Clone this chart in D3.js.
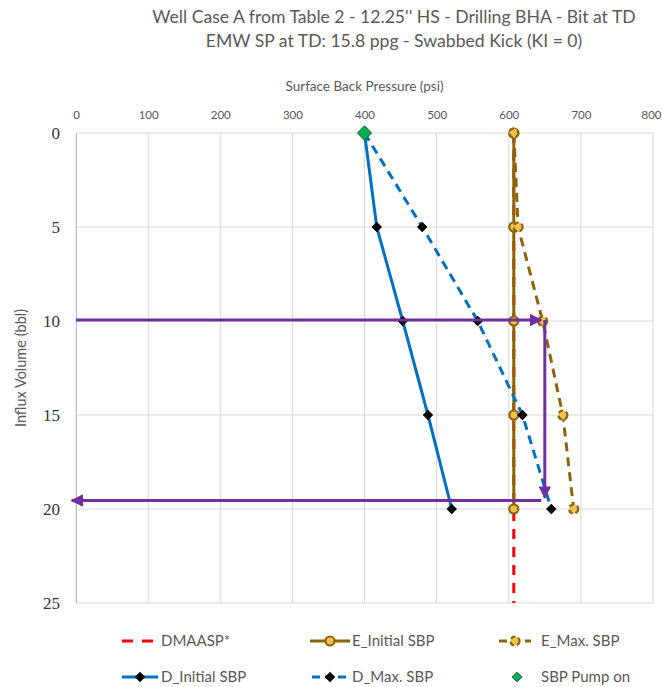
<!DOCTYPE html>
<html><head><meta charset="utf-8">
<script src="https://cdn.jsdelivr.net/npm/d3@7"></script>
<style>body{margin:0;background:#fff}svg{display:block}</style>
</head><body><svg id="c" width="662" height="687"></svg>
<script>
const titleLines = ["Well Case A from Table 2 - 12.25'' HS - Drilling BHA - Bit at TD", "EMW SP at TD: 15.8 ppg - Swabbed Kick (KI = 0)"];
const xTicks = [0,100,200,300,400,500,600,700,800];
const yTicks = [0,5,10,15,20,25];
const volumes = [0,5,10,15,20];
const eInitial = [607,607,607,607,607];
const eMax = [607,613,647,675,690];
const dInitial = [400,417,453,488,521];
const dMax = [400,480,557,619,659];
const dmaaspVol = [0,25];
const dmaasp = [607,607];
const pumpOnSBP = [400];
const pumpOnVol = [0];
// annotation arrows (SBP, volume) start -> end
const arrowStartSBP = [0,650,645];
const arrowStartVol = [9.95,9.95,19.55];
const arrowEndSBP = [645,650,-6];
const arrowEndVol = [9.95,19.4,19.55];

const svg = d3.select("#c");
const m = {l:76, r:653, t:133, b:603};
const x = d3.scaleLinear().domain([0,800]).range([m.l,m.r]);
const y = d3.scaleLinear().domain([0,25]).range([m.t,m.b]);
const grey = "#595959", brown = "#8B6508", blue = "#0070C0", purple = "#7030A0";
const sans = "Lato, 'Open Sans', sans-serif";

svg.append("defs").append("marker").attr("id","ah").attr("viewBox","0 0 10 10")
  .attr("refX",9).attr("refY",5).attr("markerWidth",4.2).attr("markerHeight",4.2)
  .attr("orient","auto").attr("markerUnits","strokeWidth")
  .append("path").attr("d","M0,0L10,5L0,10z").attr("fill",purple);

svg.selectAll(".tt").data(titleLines).join("text").attr("x",394).attr("y",(d,i)=>23+i*24)
  .attr("text-anchor","middle").attr("font-family",sans).attr("font-size",17.6)
  .attr("fill",grey).text(d=>d);

// grid
svg.append("g").selectAll("line").data(xTicks).join("line")
  .attr("x1",d=>x(d)).attr("x2",d=>x(d)).attr("y1",m.t).attr("y2",m.b).attr("stroke","#d9d9d9");
svg.append("g").selectAll("line").data(yTicks).join("line")
  .attr("x1",m.l).attr("x2",m.r).attr("y1",d=>y(d)).attr("y2",d=>y(d)).attr("stroke","#d9d9d9");

// axes
const xa = svg.append("g").attr("transform",`translate(0,${m.t})`)
  .call(d3.axisTop(x).tickValues(xTicks).tickSize(0).tickPadding(14));
xa.select(".domain").remove();
xa.selectAll("text").attr("font-family",sans).attr("font-size",11.5).attr("fill",grey)
  .attr("dx",d=>d===800?-2:0);
const ya = svg.append("g").attr("transform",`translate(${m.l},0)`)
  .call(d3.axisLeft(y).tickValues(yTicks).tickSize(0).tickPadding(16));
ya.select(".domain").attr("stroke","#bfbfbf");
ya.selectAll("text").attr("font-family","'Liberation Serif', serif").attr("font-size",17).attr("fill","#333");

svg.append("text").attr("x",(m.l+m.r)/2).attr("y",91).attr("text-anchor","middle")
  .attr("font-family",sans).attr("font-size",13.5).attr("fill",grey).text("Surface Back Pressure (psi)");
svg.append("text").attr("transform",`translate(26,${(m.t+m.b)/2}) rotate(-90)`).attr("text-anchor","middle")
  .attr("font-family",sans).attr("font-size",14.5).attr("fill",grey).text("Influx Volume (bbl)");

const line = d3.line().x(d=>x(d[0])).y(d=>y(d[1]));
const pts = arr => arr.map((v,i)=>[v,volumes[i]]);

// series
svg.append("path").datum(dmaasp.map((v,i)=>[v,dmaaspVol[i]])).attr("d",line)
  .attr("fill","none").attr("stroke","#FF0000").attr("stroke-width",3).attr("stroke-dasharray","10,8");
svg.append("path").datum(pts(eInitial)).attr("d",line).attr("fill","none").attr("stroke",brown).attr("stroke-width",3);
svg.append("path").datum(pts(eMax)).attr("d",line).attr("fill","none").attr("stroke",brown).attr("stroke-width",3).attr("stroke-dasharray","9,6");
svg.append("path").datum(pts(dInitial)).attr("d",line).attr("fill","none").attr("stroke",blue).attr("stroke-width",3);
svg.append("path").datum(pts(dMax)).attr("d",line).attr("fill","none").attr("stroke",blue).attr("stroke-width",3).attr("stroke-dasharray","9,6");

function circles(arr, dashed){
  svg.append("g").selectAll("circle").data(pts(arr)).join("circle")
    .attr("cx",d=>x(d[0])).attr("cy",d=>y(d[1])).attr("r",4.5)
    .attr("fill","#F2C14E").attr("stroke",brown).attr("stroke-width",2.2)
    .attr("stroke-dasharray",dashed?"5,3":null);
}
circles(eInitial,false); circles(eMax,true);
const diamond = d3.symbol().type(d3.symbolDiamond2).size(70);
function diamonds(arr){
  svg.append("g").selectAll("path").data(pts(arr)).join("path")
    .attr("transform",d=>`translate(${x(d[0])},${y(d[1])})`).attr("d",diamond).attr("fill","#000");
}
diamonds(dInitial); diamonds(dMax);
svg.append("g").selectAll("path").data(pumpOnSBP.map((v,i)=>[v,pumpOnVol[i]])).join("path")
  .attr("transform",d=>`translate(${x(d[0])},${y(d[1])})`).attr("d",d3.symbol().type(d3.symbolDiamond2).size(130))
  .attr("fill","#00B050").attr("stroke","#1e5e2e").attr("stroke-width",1);

// arrows
svg.append("g").selectAll("line").data(arrowStartSBP.map((v,i)=>i)).join("line")
  .attr("x1",i=>x(arrowStartSBP[i])).attr("y1",i=>y(arrowStartVol[i]))
  .attr("x2",i=>x(arrowEndSBP[i])).attr("y2",i=>y(arrowEndVol[i]))
  .attr("stroke",purple).attr("stroke-width",3).attr("marker-end","url(#ah)");

// legend
const lg = svg.append("g").attr("font-family",sans).attr("font-size",15).attr("fill",grey);
const legendItems = [
  {label:"DMAASP*", col:0,row:0},{label:"E_Initial SBP",col:1,row:0},{label:"E_Max. SBP",col:2,row:0},
  {label:"D_Initial SBP",col:0,row:1},{label:"D_Max. SBP",col:1,row:1},{label:"SBP Pump on",col:2,row:1}];
const colX = [122,310,497], textX = [161,352,541], rowY = [641,677];
legendItems.forEach((it,k)=>{
  const x0 = colX[it.col], yy = rowY[it.row], g = lg.append("g");
  if(k===0) g.append("line").attr("x1",x0).attr("x2",x0+34).attr("y1",yy).attr("y2",yy).attr("stroke","#FF0000").attr("stroke-width",3).attr("stroke-dasharray","11,9");
  if(k===1||k===2){
    g.append("line").attr("x1",x0+(k===2?2:0)).attr("x2",x0+(k===1?40:34)).attr("y1",yy).attr("y2",yy).attr("stroke",brown).attr("stroke-width",3).attr("stroke-dasharray",k===2?"8,5":null);
    g.append("circle").attr("cx",x0+(k===1?20:18)).attr("cy",yy).attr("r",4.5).attr("fill","#F2C14E").attr("stroke",brown).attr("stroke-width",2.2).attr("stroke-dasharray",k===2?"5,3":null);
  }
  if(k===3||k===4){
    g.append("line").attr("x1",x0+(k===4?2:0)).attr("x2",x0+(k===3?36:40)).attr("y1",yy).attr("y2",yy).attr("stroke",blue).attr("stroke-width",3).attr("stroke-dasharray",k===4?"8,5":null);
    g.append("path").attr("transform",`translate(${x0+(k===3?18:20)},${yy})`).attr("d",diamond).attr("fill","#000");
  }
  if(k===5) g.append("path").attr("transform",`translate(${x0+20},${yy})`).attr("d",d3.symbol().type(d3.symbolDiamond2).size(60)).attr("fill","#00B050").attr("stroke","#1e5e2e");
  g.append("text").attr("x",textX[it.col]).attr("y",yy+5).text(it.label);
});
</script></body></html>
